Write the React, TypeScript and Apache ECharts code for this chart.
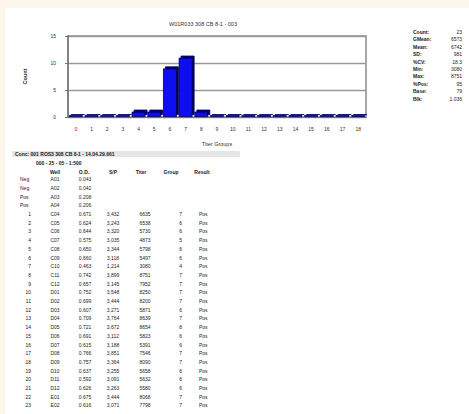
import React, { useEffect, useRef } from "react";
import * as echarts from "echarts";

const chartTitle = "W01R033 308 CB 8-1 - 003";
const titerGroups = ["0","1","2","3","4","5","6","7","8","9","10","11","12","13","14","15","16","17","18"];
const counts = [0,0,0,0,1,1,9,11,1,0,0,0,0,0,0,0,0,0,0];

const statLabels = ["Count","GMean","Mean","SD","%CV","Min","Max","%Pos","Base","Blk"];
const statValues = ["23","6573","6742","981","18.3","3080","8751","95","79","1.036"];

const tableTitle = "Conc: 001 ROS3 308 CB 8-1 - 14.04.29.661";
const tableSub = "000 - 25 - 05 - 1:500";
const colHeaders = ["Well","O.D.","S/P","Titer","Group","Result"];
const ctrlLabels = ["Neg","Neg","Pos","Pos"];
const ctrlWells = ["A01","A02","A03","A04"];
const ctrlOD = ["0.043","0.042","0.208","0.206"];
const sampleWells = ["C04","C05","C06","C07","C08","C09","C10","C11","C12","D01","D02","D03","D04","D05","D06","D07","D08","D09","D10","D11","D12","E01","E02"];
const sampleOD = ["0.671","0.624","0.644","0.575","0.650","0.660","0.463","0.742","0.657","0.752","0.699","0.607","0.709","0.721","0.691","0.615","0.766","0.757","0.637","0.592","0.626","0.675","0.616"];
const sampleSP = ["3,432","3,243","3,320","3,035","3,344","3,118","1,214","3,899","3,145","3,548","3,444","3,271","3,764","3,672","3,112","3,188","3,851","3,364","3,255","3,091","3,263","3,444","3,071"];
const sampleTiter = ["6635","6538","5730","4873","5798","5497","3080","8751","7952","8250","8200","5871","8639","8654","5823","5391","7546","8090","5658","5632","5580","8068","7798"];
const sampleGroup = ["7","6","6","5","6","6","4","7","7","7","7","6","7","8","6","6","7","7","6","6","6","7","7"];
const sampleResult = Array(23).fill("Pos");

export default function App() {
  const ref = useRef<HTMLDivElement>(null);
  useEffect(() => {
    const chart = echarts.init(ref.current!, null, { renderer: "svg" });
    const font = "Liberation Sans, Arial, sans-serif";
    const fs = 5;
    const txt = (x: number, y: number, text: string, align: string = "left", bold = false, size = fs) => ({
      type: "text",
      x,
      y,
      z: 10,
      style: {
        text,
        fill: "#222",
        font: `${bold ? "bold " : ""}${size}px ${font}`,
        textAlign: align,
        textVerticalAlign: "middle",
      },
    });

    const graphics: any[] = [];
    graphics.push({ type: "rect", z: -10, shape: { x: 5, y: 8, width: 464, height: 406 }, style: { fill: "#ffffff" } });
    // stats
    statLabels.forEach((l, i) => {
      const y = 32 + i * 7.4;
      graphics.push(txt(413, y, l + ":", "left", true));
      graphics.push(txt(462, y, statValues[i], "right"));
    });
    // table header
    graphics.push({ type: "rect", z: 5, shape: { x: 12, y: 151, width: 228, height: 6 }, style: { fill: "#e6e6e6" } });
    graphics.push(txt(15, 154, tableTitle, "left", true));
    graphics.push(txt(36, 163, tableSub, "left", true));
    const colX = [55, 84, 113, 141, 171, 202];
    colHeaders.forEach((h, i) => graphics.push(txt(colX[i], 172, h, "center", true)));
    const rowH = 8.7;
    const y0 = 179.2;
    ctrlLabels.forEach((l, i) => {
      const y = y0 + i * rowH;
      graphics.push(txt(20, y, l, "left"));
      graphics.push(txt(55, y, ctrlWells[i], "center"));
      graphics.push(txt(85, y, ctrlOD[i], "center"));
    });
    sampleWells.forEach((w, i) => {
      const y = y0 + (i + 4) * rowH;
      graphics.push(txt(31, y, String(i + 1), "right"));
      graphics.push(txt(55, y, w, "center"));
      graphics.push(txt(85, y, sampleOD[i], "center"));
      graphics.push(txt(113, y, sampleSP[i], "center"));
      graphics.push(txt(145, y, sampleTiter[i], "center"));
      graphics.push(txt(182, y, sampleGroup[i], "right"));
      graphics.push(txt(199, y, sampleResult[i], "left"));
    });

    chart.setOption({
      animation: false,
      backgroundColor: "#fdf6ea",
      textStyle: { fontFamily: font },
      title: {
        text: chartTitle,
        left: 198,
        top: 16,
        textAlign: "center",
        textStyle: { fontSize: 5.5, fontWeight: "normal", color: "#333" },
      },
      grid: {
        left: 68,
        right: 103,
        top: 36,
        bottom: 297,
        show: true,
        borderColor: "#8a8a8a",
        borderWidth: 1.5,
        backgroundColor: "transparent",
      },
      xAxis: {
        type: "category",
        data: titerGroups,
        name: "Titer Groups",
        nameLocation: "middle",
        nameGap: 24,
        nameTextStyle: { fontSize: 5.5, color: "#333" },
        axisLine: { lineStyle: { color: "#777", width: 1 } },
        axisTick: { show: false },
        axisLabel: { fontSize: 5, color: "#333", margin: 9 },
      },
      yAxis: {
        type: "value",
        min: 0,
        max: 15,
        interval: 5,
        name: "Count",
        nameLocation: "middle",
        nameGap: 40,
        nameTextStyle: { fontSize: 5.5, fontWeight: "bold", color: "#333" },
        axisLine: { show: true, lineStyle: { color: "#777", width: 1.5 } },
        axisTick: { show: true, length: 3, lineStyle: { color: "#777" } },
        axisLabel: { fontSize: 5, color: "#333", margin: 12 },
        splitLine: { lineStyle: { color: "#9a9a9a", width: 1.3 } },
      },
      series: [
        {
          type: "bar",
          data: counts,
          barCategoryGap: "12%",
          barMinHeight: 2,
          itemStyle: {
            color: "#0a0af0",
            borderColor: "#00004a",
            borderWidth: 0.8,
            shadowColor: "#000070",
            shadowOffsetX: 2,
            shadowOffsetY: -2,
            shadowBlur: 0,
          },
        },
      ],
      graphic: graphics,
    });
    return () => chart.dispose();
  }, []);
  return <div ref={ref} style={{ position: "fixed", left: 0, top: 0, width: 469, height: 414 }} />;
}
